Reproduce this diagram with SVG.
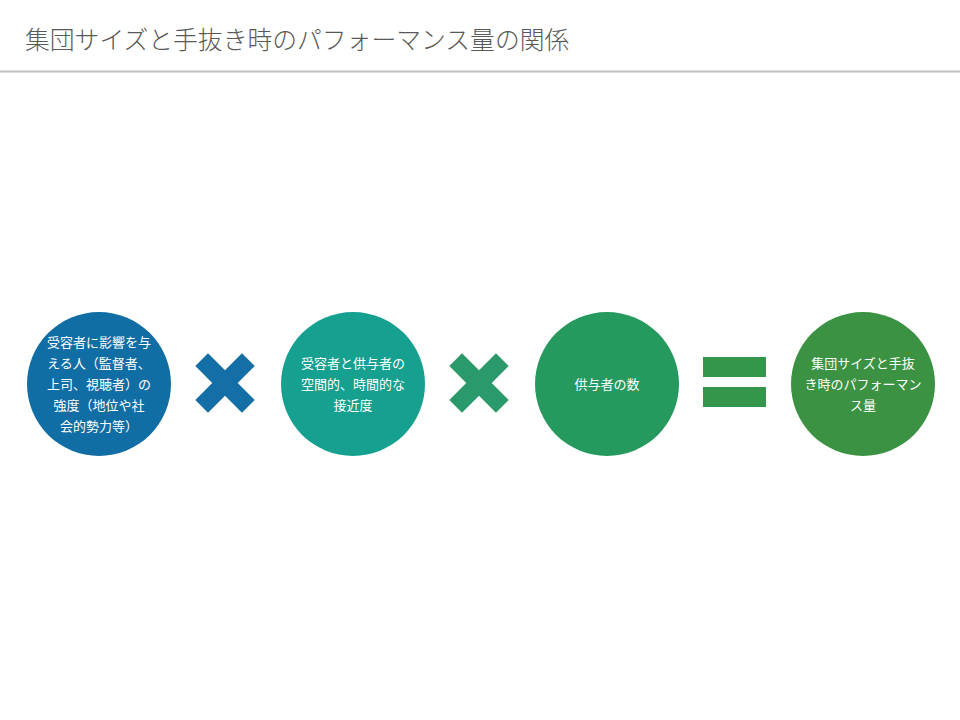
<svg xmlns="http://www.w3.org/2000/svg" width="960" height="720" viewBox="0 0 960 720">
<style>
.title{font-family:"Noto Sans CJK JP","Liberation Sans",sans-serif;font-size:24.8px;font-weight:300;fill:#595959}
.lbl{font-family:"Noto Sans CJK JP","Liberation Sans",sans-serif;font-size:13px;fill:#ffffff;text-anchor:middle}
</style>
<rect width="960" height="720" fill="#ffffff"/>
<text class="title" x="25" y="49">集団サイズと手抜き時のパフォーマンス量の関係</text>
<line x1="0" y1="71.5" x2="960" y2="71.5" stroke="#bfbfbf" stroke-width="2"/>
<g id="connectors">
  <g id="times1" fill="#136fa5" transform="translate(225,383) rotate(45)">
    <rect x="-33" y="-9" width="66" height="18"/>
    <rect x="-9" y="-33" width="18" height="66"/>
  </g>
  <g id="times2" fill="#2a9a6c" transform="translate(479,383) rotate(45)">
    <rect x="-33" y="-9" width="66" height="18"/>
    <rect x="-9" y="-33" width="18" height="66"/>
  </g>
  <g id="equals" fill="#35954a">
    <rect x="703" y="357" width="63" height="20"/>
    <rect x="703" y="387" width="63" height="20"/>
  </g>
</g>
<g id="node1">
  <circle cx="99" cy="384" r="72" fill="#106ea4"/>
  <text class="lbl" x="99" y="347">受容者に影響を与</text>
  <text class="lbl" x="99" y="368">える人（監督者、</text>
  <text class="lbl" x="99" y="389">上司、視聴者）の</text>
  <text class="lbl" x="99" y="410">強度（地位や社</text>
  <text class="lbl" x="99" y="431">会的勢力等）</text>
</g>
<g id="node2">
  <circle cx="353" cy="384" r="72" fill="#15a08f"/>
  <text class="lbl" x="353" y="368">受容者と供与者の</text>
  <text class="lbl" x="353" y="389">空間的、時間的な</text>
  <text class="lbl" x="353" y="410">接近度</text>
</g>
<g id="node3">
  <circle cx="607" cy="384" r="72" fill="#25995e"/>
  <text class="lbl" x="607" y="389">供与者の数</text>
</g>
<g id="node4">
  <circle cx="863" cy="384" r="72" fill="#3a9242"/>
  <text class="lbl" x="863" y="368">集団サイズと手抜</text>
  <text class="lbl" x="863" y="389">き時のパフォーマン</text>
  <text class="lbl" x="863" y="410">ス量</text>
</g>
</svg>
